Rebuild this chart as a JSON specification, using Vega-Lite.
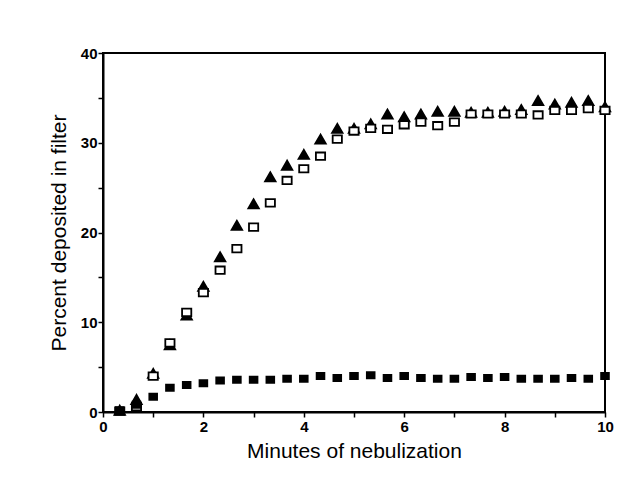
{
  "$schema": "https://vega.github.io/schema/vega-lite/v6.json",
  "autosize": "none",
  "padding": {"left": 103, "top": 53, "right": 37, "bottom": 75},
  "width": 502,
  "height": 359,
  "background": "white",
  "config": {
    "view": {"stroke": "black", "strokeWidth": 2},
    "font": "Liberation Sans",
    "axis": {
      "domainColor": "black",
      "domainWidth": 2,
      "tickColor": "black",
      "tickWidth": 1.5,
      "tickSize": 5,
      "grid": false,
      "labelFont": "Liberation Sans",
      "labelFontWeight": "bold",
      "labelFontSize": 15,
      "labelColor": "black",
      "titleFont": "Liberation Sans",
      "titleFontWeight": "normal",
      "titleFontSize": 21,
      "titleColor": "black"
    }
  },
  "data": {
    "values": [
      {"t": 0.333, "series": "triangle", "pct": 0.2},
      {"t": 0.667, "series": "triangle", "pct": 1.4},
      {"t": 1.0, "series": "triangle", "pct": 4.3},
      {"t": 1.333, "series": "triangle", "pct": 7.5},
      {"t": 1.667, "series": "triangle", "pct": 10.8},
      {"t": 2.0, "series": "triangle", "pct": 14.0},
      {"t": 2.333, "series": "triangle", "pct": 17.3},
      {"t": 2.667, "series": "triangle", "pct": 20.8},
      {"t": 3.0, "series": "triangle", "pct": 23.2},
      {"t": 3.333, "series": "triangle", "pct": 26.2},
      {"t": 3.667, "series": "triangle", "pct": 27.5},
      {"t": 4.0, "series": "triangle", "pct": 28.7},
      {"t": 4.333, "series": "triangle", "pct": 30.4},
      {"t": 4.667, "series": "triangle", "pct": 31.6},
      {"t": 5.0, "series": "triangle", "pct": 31.6},
      {"t": 5.333, "series": "triangle", "pct": 32.1},
      {"t": 5.667, "series": "triangle", "pct": 33.2},
      {"t": 6.0, "series": "triangle", "pct": 32.9},
      {"t": 6.333, "series": "triangle", "pct": 33.2},
      {"t": 6.667, "series": "triangle", "pct": 33.5},
      {"t": 7.0, "series": "triangle", "pct": 33.5},
      {"t": 7.333, "series": "triangle", "pct": 33.4},
      {"t": 7.667, "series": "triangle", "pct": 33.4},
      {"t": 8.0, "series": "triangle", "pct": 33.5},
      {"t": 8.333, "series": "triangle", "pct": 33.7},
      {"t": 8.667, "series": "triangle", "pct": 34.7},
      {"t": 9.0, "series": "triangle", "pct": 34.3},
      {"t": 9.333, "series": "triangle", "pct": 34.5},
      {"t": 9.667, "series": "triangle", "pct": 34.7},
      {"t": 10.0, "series": "triangle", "pct": 34.0},
      {"t": 0.333, "series": "open square", "pct": 0.1},
      {"t": 0.667, "series": "open square", "pct": 0.6},
      {"t": 1.0, "series": "open square", "pct": 4.0},
      {"t": 1.333, "series": "open square", "pct": 7.7},
      {"t": 1.667, "series": "open square", "pct": 11.1},
      {"t": 2.0, "series": "open square", "pct": 13.3},
      {"t": 2.333, "series": "open square", "pct": 15.8},
      {"t": 2.667, "series": "open square", "pct": 18.2},
      {"t": 3.0, "series": "open square", "pct": 20.6},
      {"t": 3.333, "series": "open square", "pct": 23.3},
      {"t": 3.667, "series": "open square", "pct": 25.8},
      {"t": 4.0, "series": "open square", "pct": 27.1},
      {"t": 4.333, "series": "open square", "pct": 28.5},
      {"t": 4.667, "series": "open square", "pct": 30.4},
      {"t": 5.0, "series": "open square", "pct": 31.3},
      {"t": 5.333, "series": "open square", "pct": 31.6},
      {"t": 5.667, "series": "open square", "pct": 31.5},
      {"t": 6.0, "series": "open square", "pct": 32.0},
      {"t": 6.333, "series": "open square", "pct": 32.3},
      {"t": 6.667, "series": "open square", "pct": 31.9},
      {"t": 7.0, "series": "open square", "pct": 32.3},
      {"t": 7.333, "series": "open square", "pct": 33.2},
      {"t": 7.667, "series": "open square", "pct": 33.2},
      {"t": 8.0, "series": "open square", "pct": 33.2},
      {"t": 8.333, "series": "open square", "pct": 33.2},
      {"t": 8.667, "series": "open square", "pct": 33.1},
      {"t": 9.0, "series": "open square", "pct": 33.6},
      {"t": 9.333, "series": "open square", "pct": 33.6},
      {"t": 9.667, "series": "open square", "pct": 33.8},
      {"t": 10.0, "series": "open square", "pct": 33.6},
      {"t": 0.333, "series": "filled square", "pct": 0.2},
      {"t": 0.667, "series": "filled square", "pct": 0.8},
      {"t": 1.0, "series": "filled square", "pct": 1.7},
      {"t": 1.333, "series": "filled square", "pct": 2.7},
      {"t": 1.667, "series": "filled square", "pct": 3.0},
      {"t": 2.0, "series": "filled square", "pct": 3.2},
      {"t": 2.333, "series": "filled square", "pct": 3.5},
      {"t": 2.667, "series": "filled square", "pct": 3.6},
      {"t": 3.0, "series": "filled square", "pct": 3.6},
      {"t": 3.333, "series": "filled square", "pct": 3.6},
      {"t": 3.667, "series": "filled square", "pct": 3.7},
      {"t": 4.0, "series": "filled square", "pct": 3.7},
      {"t": 4.333, "series": "filled square", "pct": 4.0},
      {"t": 4.667, "series": "filled square", "pct": 3.8},
      {"t": 5.0, "series": "filled square", "pct": 4.0},
      {"t": 5.333, "series": "filled square", "pct": 4.1},
      {"t": 5.667, "series": "filled square", "pct": 3.8},
      {"t": 6.0, "series": "filled square", "pct": 4.0},
      {"t": 6.333, "series": "filled square", "pct": 3.8},
      {"t": 6.667, "series": "filled square", "pct": 3.7},
      {"t": 7.0, "series": "filled square", "pct": 3.7},
      {"t": 7.333, "series": "filled square", "pct": 3.9},
      {"t": 7.667, "series": "filled square", "pct": 3.8},
      {"t": 8.0, "series": "filled square", "pct": 3.9},
      {"t": 8.333, "series": "filled square", "pct": 3.7},
      {"t": 8.667, "series": "filled square", "pct": 3.7},
      {"t": 9.0, "series": "filled square", "pct": 3.7},
      {"t": 9.333, "series": "filled square", "pct": 3.8},
      {"t": 9.667, "series": "filled square", "pct": 3.7},
      {"t": 10.0, "series": "filled square", "pct": 4.0}
    ]
  },
  "mark": {"type": "point", "filled": false, "strokeWidth": 1.8, "stroke": "black", "opacity": 1, "clip": false},
  "encoding": {
    "x": {
      "field": "t", "type": "quantitative",
      "scale": {"domain": [0, 10], "nice": false},
      "axis": {
        "title": "Minutes of nebulization",
        "values": [0, 1, 2, 3, 4, 5, 6, 7, 8, 9, 10],
        "labelExpr": "datum.value % 2 == 0 ? datum.label : ''",
        "labelPadding": 2,
        "titlePadding": 6,
        "labelFlush": false
      }
    },
    "y": {
      "field": "pct", "type": "quantitative",
      "scale": {"domain": [0, 40], "nice": false},
      "axis": {
        "title": "Percent deposited in filter",
        "values": [0, 5, 10, 15, 20, 25, 30, 35, 40],
        "labelExpr": "datum.value % 10 == 0 ? datum.label : ''",
        "labelPadding": 1,
        "titlePadding": 11,
        "labelFlush": false
      }
    },
    "shape": {
      "field": "series", "type": "nominal",
      "scale": {"domain": ["triangle", "open square", "filled square"], "range": ["triangle-up", "M-1,-0.8H1V0.8H-1Z", "M-1,-0.8H1V0.8H-1Z"]},
      "legend": null
    },
    "fill": {
      "field": "series", "type": "nominal",
      "scale": {"domain": ["triangle", "open square", "filled square"], "range": ["black", "white", "black"]},
      "legend": null
    },
    "size": {
      "field": "series", "type": "nominal",
      "scale": {"domain": ["triangle", "open square", "filled square"], "range": [110, 60, 85]},
      "legend": null
    },
    "order": {"field": "series", "sort": "descending"}
  }
}
